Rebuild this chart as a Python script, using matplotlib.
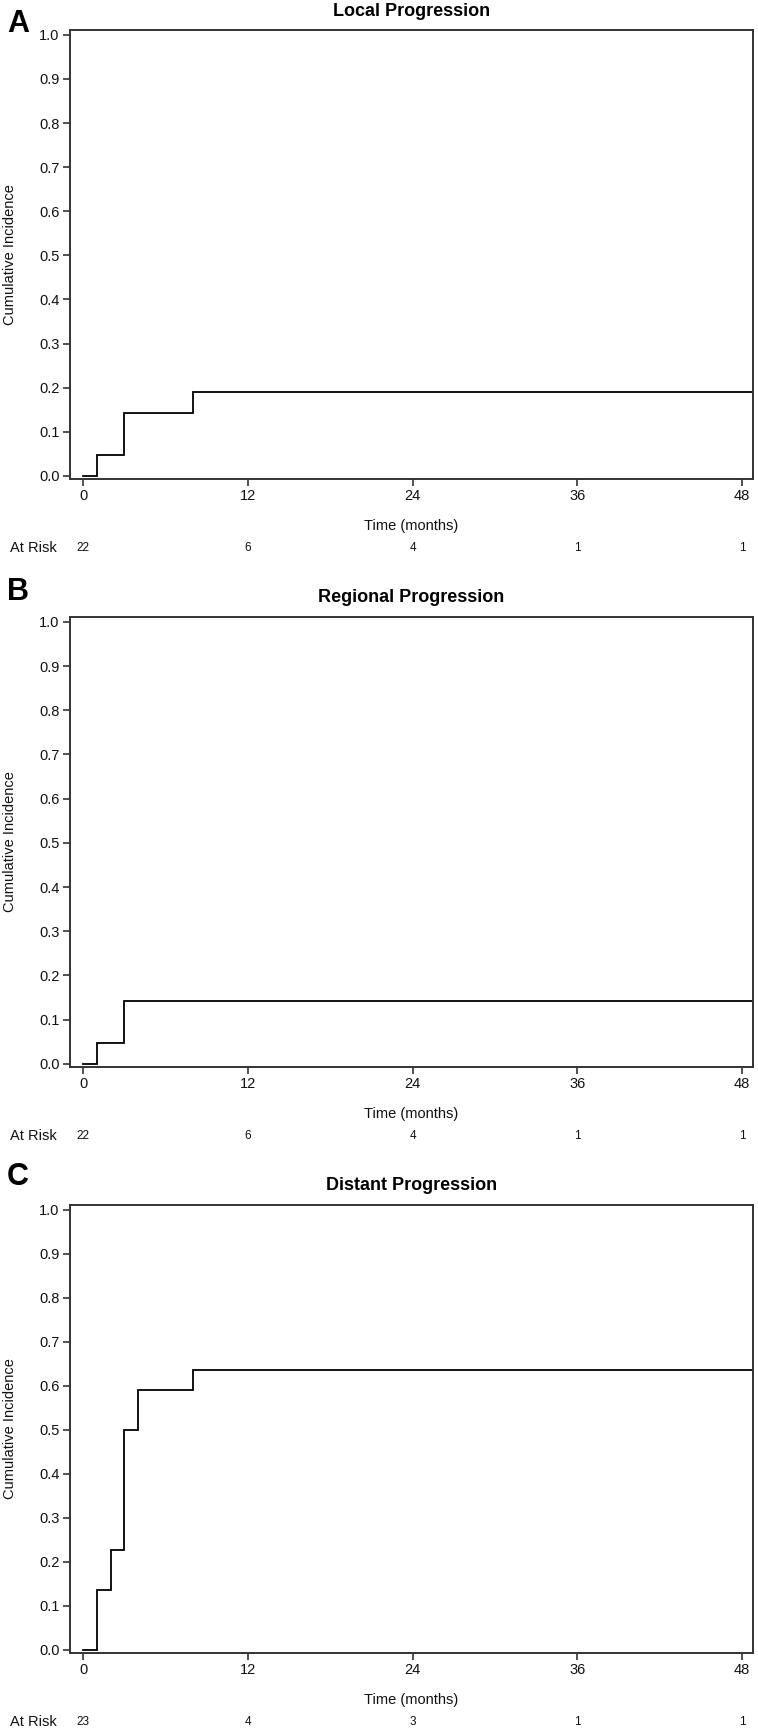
import matplotlib
matplotlib.use("Agg")
import matplotlib.pyplot as plt

plt.rcParams['font.family'] = ['Liberation Sans', 'DejaVu Sans']

# ---------------- data ----------------
titles = ["Local Progression", "Regional Progression", "Distant Progression"]
letters = ["A", "B", "C"]

local_times = [0, 1, 3, 8]
local_cif = [0.0, 0.048, 0.143, 0.190]

regional_times = [0, 1, 3]
regional_cif = [0.0, 0.048, 0.143]

distant_times = [0, 1, 2, 3, 4, 8]
distant_cif = [0.0, 0.136, 0.227, 0.500, 0.591, 0.636]

x_ticks = [0, 12, 24, 36, 48]
y_ticks = [0.0, 0.1, 0.2, 0.3, 0.4, 0.5, 0.6, 0.7, 0.8, 0.9, 1.0]

local_at_risk = [22, 6, 4, 1, 1]
regional_at_risk = [22, 6, 4, 1, 1]
distant_at_risk = [23, 4, 3, 1, 1]

series_times = [local_times, regional_times, distant_times]
series_cif = [local_cif, regional_cif, distant_cif]
series_risk = [local_at_risk, regional_at_risk, distant_at_risk]

# ---------------- layout (pixels) ----------------
W, H = 758, 1730
DPI = 100
fig = plt.figure(figsize=(W / DPI, H / DPI), dpi=DPI)

ax_left, ax_right = 70, 753
ax_tops = [30, 617, 1205]
ax_bottoms = [479, 1067, 1653]
title_y = [12, 597, 1185]
letter_y = [24, 592, 1177]

XMIN, XMAX = -0.97, 48.8
YMIN, YMAX = -0.007, 1.011

spine_col = "#333333"
txt_col = "#111111"
for i in range(3):
    top, bot = ax_tops[i], ax_bottoms[i]
    ax = fig.add_axes([ax_left / W, 1 - bot / H, (ax_right - ax_left) / W, (bot - top) / H])
    t = list(series_times[i]) + [XMAX]
    v = list(series_cif[i]) + [series_cif[i][-1]]
    ax.step(t, v, where='post', color='black', lw=1.3, solid_joinstyle='miter')
    ax.set_xlim(XMIN, XMAX)
    ax.set_ylim(YMIN, YMAX)
    ax.set_xticks(x_ticks)
    ax.set_yticks(y_ticks)
    ax.set_yticklabels([f"{y:.1f}" for y in y_ticks])
    ax.tick_params(axis='both', direction='out', length=5, width=1.2, color=spine_col,
                   labelsize=10.5, pad=2.5, labelcolor=txt_col)
    for sp in ax.spines.values():
        sp.set_linewidth(1.4)
        sp.set_color(spine_col)

    # y-axis label, centred at x = 10 px from the figure's left edge
    fig.text(10 / W, 1 - (top + bot) / 2 / H, "Cumulative Incidence", rotation=90,
             ha='center', va='center', fontsize=10.5, color=txt_col)

    # x-axis label
    ax.annotate("Time (months)", xy=(0.5, 0), xycoords='axes fraction',
                xytext=(0, -47), textcoords='offset pixels',
                ha='center', va='center', fontsize=10.5, color=txt_col)
    # at-risk row
    for xt, n in zip(x_ticks, series_risk[i]):
        ax.annotate(str(n), xy=(xt, 0), xycoords=('data', 'axes fraction'),
                    xytext=(0, -69), textcoords='offset pixels',
                    ha='center', va='center', fontsize=8.5, color=txt_col)
    fig.text(10 / W, 1 - (bot + 69) / H, "At Risk", ha='left', va='center',
             fontsize=10.5, color=txt_col)

    # title and panel letter
    fig.text((ax_left + ax_right) / 2 / W, 1 - title_y[i] / H, titles[i],
             ha='center', va='center', fontsize=13, fontweight='bold')
    fig.text(7 / W, 1 - letter_y[i] / H, letters[i], ha='left', va='center',
             fontsize=22, fontweight='bold')

fig.savefig("out.png", dpi=DPI)
